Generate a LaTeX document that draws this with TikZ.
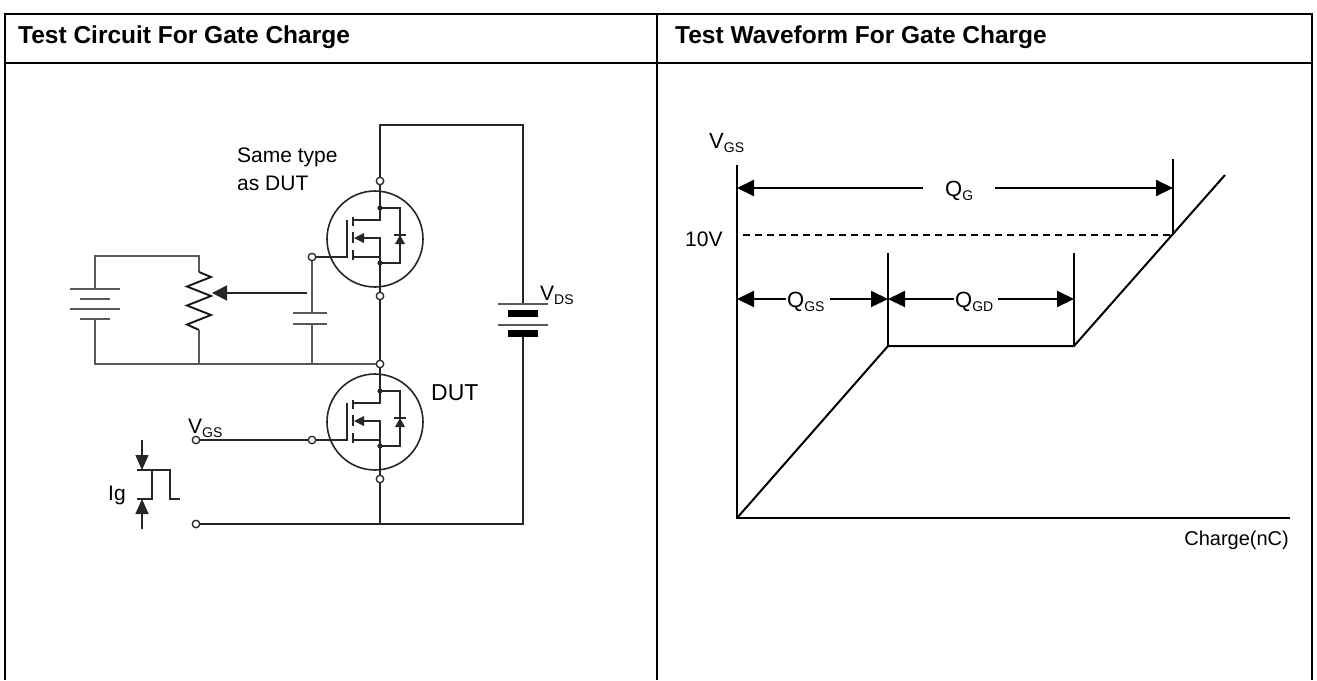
\documentclass[tikz,border=0pt]{standalone}
\usepackage{fontspec}
\setmainfont{Liberation Sans}
\usetikzlibrary{arrows.meta}
\newcommand\subs[1]{\raisebox{-4pt}{\fontsize{14}{14}\selectfont #1}}
\begin{document}
\begin{tikzpicture}[x=1pt,y=-1pt,
  wire/.style={line width=1.6pt, draw=black!85},
  thinw/.style={line width=1.3pt, draw=black!65},
  zig/.style={line width=1.9pt, draw=black!90, line join=miter},
  term/.style={circle, draw=black!85, fill=white, line width=1.3pt, inner sep=0pt, minimum size=7.5pt},
  txt/.style={inner sep=0pt, font=\fontsize{21}{24}\selectfont},
  hdr/.style={inner sep=0pt, font=\fontsize{24.5}{28}\selectfont\bfseries},
  wf/.style={line width=2pt, draw=black},
  tip/.style={-{Triangle[length=17pt,width=16pt]}},
  frame/.style={line width=2pt, draw=black},
  nmos/.pic={
    \node[term] (-d) at (5,-58) {};
    \node[term] (-s) at (5,57) {};
    \node[term] (-g) at (-63,18) {};
    \coordinate (-dj) at (5,-31);
    \coordinate (-sj) at (5,24);
    \coordinate (-dk) at (25,-31);
    \coordinate (-sk) at (25,24);
    \draw[wire] (0,0) circle[radius=48pt];
    \draw[wire] (-d) -- (-dj) -- (5,-19) -- (-22,-19);
    \draw[wire] (-dj) -- (-dk) -- (-sk) -- (-sj);
    \draw[wire] (-s) -- (-sj) -- (5,-1) -- (-12,-1);
    \draw[wire] (5,18) -- (-22,18);
    \draw[wire] (-g) -- (-28,18) -- (-28,-19);
    \draw[wire] (-22,-22) -- (-22,-13) (-22,-7) -- (-22,4) (-22,11) -- (-22,21);
    \fill[black!85] (-21,-1) -- (-11,-6) -- (-11,4) -- cycle;
    \fill[black!85] (25,-4) -- (20,5) -- (30,5) -- cycle;
    \draw[wire] (19,-4) -- (31,-4);
    \fill[black!85] (-dj) circle[radius=2.6pt] (-sj) circle[radius=2.6pt];
  }]
\useasboundingbox[fill=white] (0,0) rectangle (1317,680);

% frame
\draw[frame] (5,680) -- (5,14) -- (1312,14) -- (1312,680);
\draw[frame] (5,63) -- (1312,63);
\draw[frame] (657,14) -- (657,680);
\node[hdr, anchor=base west] (h1) at (18,43) {Test Circuit For Gate Charge};
\node[hdr, anchor=base west] (h2) at (675,43) {Test Waveform For Gate Charge};

% MOSFETs
\pic (m1) at (375,239) {nmos};
\pic (m2) at (375,422) {nmos};

% main loop
\coordinate (tl) at (380,125);
\coordinate (tr) at (523,125);
\coordinate (bt) at (523,304);
\coordinate (bb) at (523,337);
\coordinate (br) at (523,524);
\coordinate (bm) at (380,524);
\node[term] (tg) at (196,440) {};
\node[term] (tb) at (196,524) {};
\draw[wire] (m1-d) -- (tl) -- (tr) -- (bt);
\draw[wire] (bb) -- (br) -- (bm) -- (tb);
\draw[wire] (m2-s) -- (bm);
\draw[wire] (m1-s) -- (m2-d);
\draw[wire] (tg) -- (m2-g);
% VDS battery
\draw[thinw] (498,304) -- (548,304) (498,325) -- (548,325);
\fill[black] (508,310) rectangle (538,317);
\fill[black] (508,330) rectangle (538,337);

% left circuit
\coordinate (lt) at (95,256);
\coordinate (lb) at (95,364);
\coordinate (rt) at (199,256);
\coordinate (bp1) at (95,289);
\coordinate (bp4) at (95,319);
\coordinate (r1) at (199,272);
\coordinate (r2) at (199,330);
\coordinate (rb) at (199,364);
\coordinate (ct) at (312,313);
\coordinate (cb) at (312,324);
\coordinate (cbb) at (312,364);
\coordinate (wip) at (307,293);
\coordinate (wtip) at (212,293);
\draw[thinw] (bp1) -- (lt) -- (rt) -- (r1);
\draw[zig] (r1) -- (211,277) -- (187,286.5) -- (211,296) -- (187,305.5) -- (211,315) -- (187,324.5) -- (r2);
\draw[thinw] (r2) -- (rb);
\draw[thinw] (bp4) -- (lb) -- (m2-d);
\draw[thinw] (m1-g) -- (ct);
\draw[thinw] (cb) -- (cbb);
\draw[thinw] (70,289) -- (120,289) (80,299) -- (110,299) (70,309) -- (120,309) (80,319) -- (110,319);
\draw[thinw] (293,313) -- (327,313) (293,324) -- (327,324);
\draw[wire, -{Triangle[length=15pt,width=15pt]}] (wip) -- (wtip);

% Ig pulse
\draw[wire] (137,499) -- (152,499) -- (152,470) -- (137,470) (152,470) -- (170,470) -- (170,499) -- (180,499);
\coordinate (ia1) at (142,440);
\coordinate (ia2) at (142,470);
\coordinate (ib1) at (142,529);
\coordinate (ib2) at (142,499);
\draw[wire, -{Triangle[length=15pt,width=13pt]}] (ia1) -- (ia2);
\draw[wire, -{Triangle[length=15pt,width=13pt]}] (ib1) -- (ib2);

% circuit labels
\node[txt, anchor=base west] (st1) at (237,162) {Same type};
\node[txt, anchor=base west] (st2) at (237,190) {as DUT};
\node[txt, anchor=base west, font=\fontsize{23}{26}\selectfont] (dut) at (431,400) {DUT};
\node[txt, anchor=base west] (vgs) at (188,433) {V\subs{GS}};
\node[txt, anchor=base west] (vds) at (540,300) {V\subs{DS}};
\node[txt, anchor=base west] (ig) at (108,500) {Ig};

% waveform
\coordinate (o) at (737,518);
\coordinate (ytop) at (737,165);
\coordinate (xend) at (1290,518);
\coordinate (k1) at (888,346);
\coordinate (k2) at (1074,346);
\coordinate (k3) at (1225,175);
\draw[wf] (ytop) -- (o) -- (xend);
\draw[wf] (o) -- (k1) -- (k2) -- (k3);
\coordinate (t1) at (888,253);
\coordinate (t2) at (1074,253);
\coordinate (t3a) at (1173,159);
\coordinate (t3b) at (1173,234);
\draw[wf] (t1) -- (k1);
\draw[wf] (t2) -- (k2);
\draw[wf] (t3a) -- (t3b);
\coordinate (d1) at (743,235);
\coordinate (d2) at (1172,235);
\draw[wf, dash pattern=on 7pt off 5pt] (d1) -- (d2);
\coordinate (qga) at (737,188);
\coordinate (qgb) at (923,188);
\coordinate (qgc) at (995,188);
\coordinate (qgd) at (1173,188);
\draw[wf, tip] (qgb) -- (qga);
\draw[wf, tip] (qgc) -- (qgd);
\coordinate (sa) at (737,299);
\coordinate (sb) at (786,299);
\coordinate (sc) at (830,299);
\coordinate (sd) at (888,299);
\draw[wf, tip] (sb) -- (sa);
\draw[wf, tip] (sc) -- (sd);
\coordinate (ga) at (888,299);
\coordinate (gb) at (954,299);
\coordinate (gc) at (998,299);
\coordinate (gd) at (1074,299);
\draw[wf, tip] (gb) -- (ga);
\draw[wf, tip] (gc) -- (gd);

\node[txt, anchor=base west, font=\fontsize{22}{24}\selectfont] (wvgs) at (709,148) {V\subs{GS}};
\node[txt, anchor=base west] (ten) at (685,246) {10V};
\node[txt, anchor=base west, font=\fontsize{22}{24}\selectfont] (qg) at (945,196) {Q\subs{G}};
\node[txt, anchor=base west, font=\fontsize{22}{24}\selectfont] (qgs) at (787,307) {Q\subs{GS}};
\node[txt, anchor=base west, font=\fontsize{22}{24}\selectfont] (qgdl) at (955,307) {Q\subs{GD}};
\node[txt, anchor=base east, font=\fontsize{20}{24}\selectfont] (chg) at (1289,545) {Charge(nC)};
\end{tikzpicture}
\end{document}
